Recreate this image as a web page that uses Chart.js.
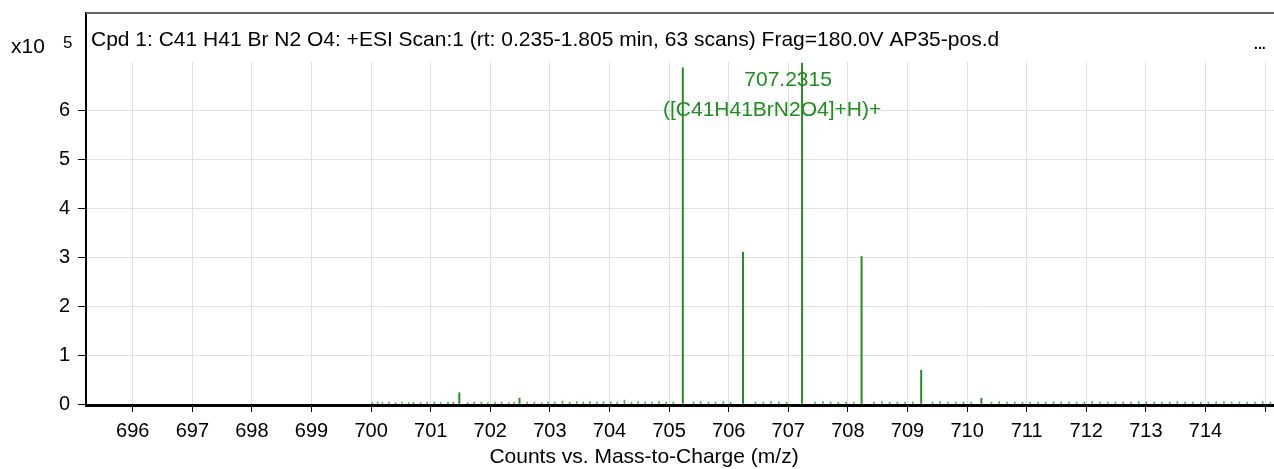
<!DOCTYPE html>
<html lang="en">
<head>
  <meta charset="UTF-8" />
  <title>Cpd 1 – ESI mass spectrum</title>
  <script src="https://cdn.jsdelivr.net/npm/chart.js"></script>
  <style>
    body {
      margin: 0;
      background: #fff;
      font-family: 'Liberation Sans', Arial, sans-serif;
    }
    .wrap {
      position: relative;
      width: 1274px;
      height: 469px;
    }
  </style>
</head>
<body>
<div class="wrap">
  <canvas id="spectrum"></canvas>
</div>

<script>
// axis ticks
const mzTicks = [696, 697, 698, 699, 700, 701, 702, 703, 704, 705, 706, 707, 708, 709, 710, 711, 712, 713, 714, 715];
const intensityTicks = [0, 1, 2, 3, 4, 5, 6];

// centroid peaks (counts x10^5)
const peakMz = [701.48, 702.49, 705.23, 706.24, 707.2315, 708.23, 709.23, 710.24];
const peakIntensity = [0.23, 0.12, 6.86, 3.10, 6.96, 3.01, 0.69, 0.12];

// baseline noise
const noiseMz = [
  700.02, 700.11, 700.19, 700.30, 700.41, 700.52, 700.63, 700.71, 700.83, 700.94,
  701.06, 701.17, 701.29, 701.38, 701.62, 701.73, 701.85, 701.96, 702.08, 702.19,
  702.31, 702.40, 702.62, 702.74, 702.86, 702.97, 703.08, 703.21, 703.33, 703.45,
  703.56, 703.67, 703.79, 703.90, 704.02, 704.13, 704.25, 704.37, 704.48, 704.60,
  704.71, 704.83, 704.95, 705.07, 705.41, 705.53, 705.66, 705.78, 705.91, 706.03,
  706.45, 706.58, 706.71, 706.84, 706.97, 707.45, 707.58, 707.71, 707.84, 707.97,
  708.10, 708.44, 708.57, 708.70, 708.83, 708.96, 709.09, 709.42, 709.55, 709.68,
  709.81, 709.94, 710.07, 710.41, 710.54, 710.67, 710.80, 710.93, 711.06, 711.19,
  711.32, 711.45, 711.58, 711.71, 711.84, 711.97, 712.10, 712.23, 712.36, 712.49,
  712.62, 712.75, 712.88, 713.01, 713.14, 713.27, 713.40, 713.53, 713.66, 713.79,
  713.92, 714.05, 714.18, 714.31, 714.44, 714.57, 714.70, 714.83, 714.96, 715.09
];
const noiseIntensity = [
  0.03, 0.04, 0.03, 0.04, 0.03, 0.04, 0.03, 0.04, 0.03, 0.04,
  0.04, 0.03, 0.04, 0.04, 0.03, 0.04, 0.04, 0.03, 0.04, 0.04,
  0.03, 0.04, 0.04, 0.04, 0.03, 0.04, 0.04, 0.06, 0.04, 0.05,
  0.04, 0.05, 0.04, 0.05, 0.04, 0.04, 0.08, 0.04, 0.05, 0.04,
  0.04, 0.05, 0.04, 0.04, 0.04, 0.05, 0.04, 0.04, 0.05, 0.04,
  0.04, 0.04, 0.05, 0.04, 0.04, 0.04, 0.05, 0.04, 0.04, 0.04,
  0.04, 0.04, 0.05, 0.04, 0.04, 0.04, 0.04, 0.04, 0.05, 0.04,
  0.04, 0.04, 0.04, 0.04, 0.05, 0.04, 0.04, 0.04, 0.04, 0.04,
  0.04, 0.05, 0.04, 0.04, 0.04, 0.04, 0.05, 0.04, 0.04, 0.04,
  0.04, 0.04, 0.05, 0.04, 0.04, 0.04, 0.04, 0.05, 0.04, 0.04,
  0.04, 0.04, 0.04, 0.05, 0.04, 0.04, 0.04, 0.04, 0.05, 0.04
];

const titleText = "Cpd 1: C41 H41 Br N2 O4: +ESI Scan:1 (rt: 0.235-1.805 min, 63 scans) Frag=180.0V AP35-pos.d";
const peakLabelMz = 707.2315;
const peakLabelLines = ["707.2315", "([C41H41BrN2O4]+H)+"];
const xAxisTitle = "Counts vs. Mass-to-Charge (m/z)";

const FONT = "'Liberation Sans', Arial, sans-serif";
const GREEN = "#1e8c1e";

// header strip, frame line, annotations
const decorations = {
  id: "decorations",
  beforeDatasetsDraw(chart) {
    const { ctx, chartArea: a } = chart;
    ctx.save();
    ctx.fillStyle = "#fff";
    ctx.fillRect(a.left + 2, a.top, a.right - a.left, 49);
    ctx.restore();
  },
  afterDraw(chart) {
    const { ctx, chartArea: a, scales } = chart;
    ctx.save();

    ctx.strokeStyle = "#666";
    ctx.lineWidth = 2;
    ctx.beginPath();
    ctx.moveTo(a.left, a.top);
    ctx.lineTo(chart.width, a.top);
    ctx.stroke();

    ctx.fillStyle = "#000";
    ctx.textBaseline = "alphabetic";
    ctx.textAlign = "left";
    ctx.font = "21px " + FONT;
    ctx.fillText(titleText, a.left + 5, 45.5);
    ctx.fillText("x10", 11, 53);
    ctx.font = "17px " + FONT;
    ctx.fillText("5", 63, 48);
    ctx.font = "bold 14px " + FONT;
    ctx.fillText("...", 1254, 49);

    // label of the base peak
    const px = scales.x.getPixelForValue(peakLabelMz);
    ctx.fillStyle = GREEN;
    ctx.textAlign = "center";
    ctx.font = "21px " + FONT;
    ctx.fillText(peakLabelLines[0], px - 14, 86);
    ctx.fillText(peakLabelLines[1], px - 30, 115.5);

    ctx.fillStyle = "#000";
    ctx.fillText(xAxisTitle, 644, 462.5);
    ctx.restore();
  }
};

const ctx = document.getElementById("spectrum").getContext("2d");
new Chart(ctx, {
  type: "bar",
  data: {
    datasets: [
      {
        label: "noise",
        data: noiseMz.map((m, i) => ({ x: m, y: noiseIntensity[i] })),
        backgroundColor: "#4cae4c",
        barThickness: 1,
        grouped: false
      },
      {
        label: "peaks",
        data: peakMz.map((m, i) => ({ x: m, y: peakIntensity[i] })),
        backgroundColor: GREEN,
        barThickness: 1.3,
        grouped: false
      }
    ]
  },
  options: {
    responsive: true,
    maintainAspectRatio: false,
    animation: false,
    layout: { padding: { top: 13, right: 0, left: 0, bottom: 0 } },
    plugins: {
      legend: { display: false },
      tooltip: { enabled: false }
    },
    scales: {
      x: {
        type: "linear",
        offset: false,
        min: 695.216,
        max: 715.15,
        afterBuildTicks: s => { s.ticks = mzTicks.map(v => ({ value: v })); },
        afterFit: s => { s.height = 64; s.paddingLeft = 0; s.paddingRight = 0; },
        ticks: {
          autoSkip: false,
          maxRotation: 0,
          padding: 7,
          color: "#000",
          font: { family: FONT, size: 20 },
          callback: v => (v === 715 ? "" : v)
        },
        grid: { offset: false, color: "#e0e0e0", tickColor: "#000", tickLength: 7, lineWidth: 1 },
        border: { color: "#000", width: 3 }
      },
      y: {
        min: -0.02,
        max: 7.98,
        afterBuildTicks: s => { s.ticks = intensityTicks.map(v => ({ value: v })); },
        afterFit: s => { s.width = 86; s.paddingTop = 0; s.paddingBottom = 0; },
        ticks: {
          padding: 8,
          color: "#000",
          font: { family: FONT, size: 20 }
        },
        grid: { color: "#e0e0e0", tickColor: "#000", tickLength: 8, lineWidth: 1 },
        border: { color: "#000", width: 2 }
      }
    }
  },
  plugins: [decorations]
});
</script>
</body>
</html>
